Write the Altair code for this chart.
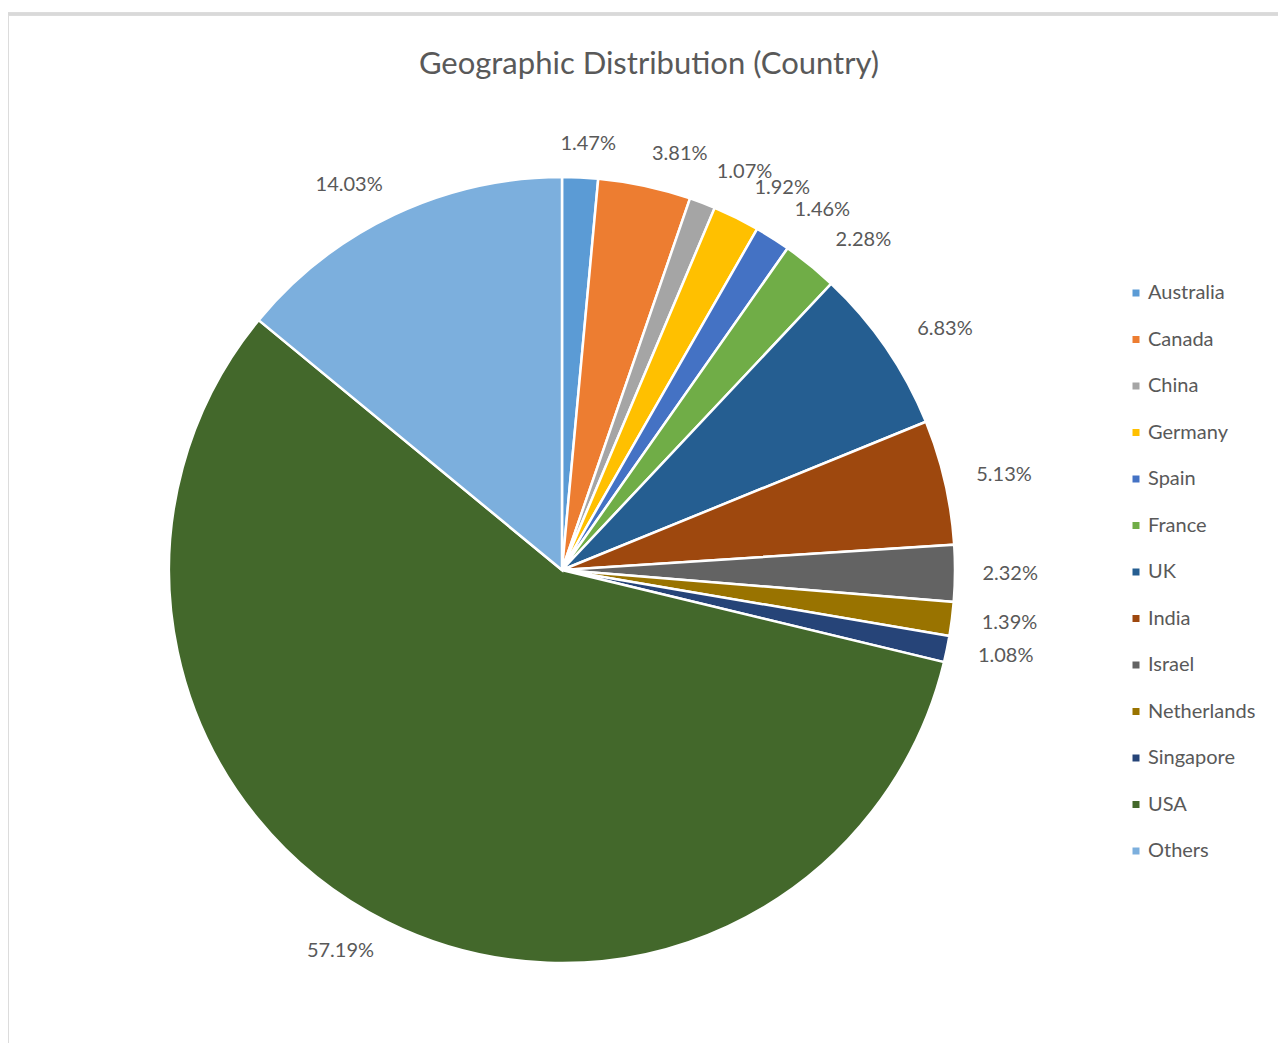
import altair as alt
import pandas as pd

countries = ["Australia", "Canada", "China", "Germany", "Spain", "France", "UK",
             "India", "Israel", "Netherlands", "Singapore", "USA", "Others"]
shares = [1.47, 3.81, 1.07, 1.92, 1.46, 2.28, 6.83, 5.13, 2.32, 1.39, 1.08, 57.19, 14.03]
colors = ["#5B9BD5", "#ED7D31", "#A5A5A5", "#FFC000", "#4472C4", "#70AD47", "#255E91",
          "#9E480E", "#636363", "#997300", "#264478", "#43682B", "#7CAFDD"]
labels = [f"{v:.2f}%" for v in shares]
title_text = "Geographic Distribution (Country)"

df = pd.DataFrame({"country": countries, "share": shares, "label": labels,
                   "order": list(range(len(countries)))})

FONT = "Lato"
TXT = "#595959"
CX, CY = 554, 482

pie = alt.Chart(df).mark_arc(outerRadius=393, stroke="white", strokeWidth=2.5).encode(
    theta=alt.Theta("share:Q", stack=True),
    order=alt.Order("order:Q"),
    x=alt.value(CX), y=alt.value(CY),
    color=alt.Color(
        "country:N",
        scale=alt.Scale(domain=countries, range=colors),
        sort=countries,
        legend=alt.Legend(
            title=None, orient="none", legendX=1118, legendY=195,
            symbolType="square", symbolSize=49, symbolStrokeWidth=0,
            labelFont=FONT, labelFontSize=20, labelColor=TXT,
            labelOffset=2, rowPadding=26.5, labelLimit=300,
        ),
    ),
)

text = alt.Chart(df).transform_window(
    cum="sum(share)", sort=[alt.SortField("order")], frame=[None, 0]
).transform_joinaggregate(
    total="sum(share)"
).transform_calculate(
    ang="2*PI*(datum.cum - datum.share/2)/datum.total"
).transform_calculate(
    lx=f"{CX} + 448*sin(datum.ang) + 24*clamp(5*sin(datum.ang), -1, 1)*abs(cos(datum.ang))",
    ly=f"{CY} - 426*cos(datum.ang)",
).mark_text(font=FONT, fontSize=20, color=TXT, baseline="middle", align="center").encode(
    x=alt.X("lx:Q", scale=None, axis=None),
    y=alt.Y("ly:Q", scale=None, axis=None),
    text="label:N",
)

title = alt.Chart(pd.DataFrame({"t": [title_text]})).mark_text(
    font=FONT, fontSize=31, color=TXT, baseline="alphabetic", align="center"
).encode(x=alt.value(641), y=alt.value(-14), text="t:N")

frame_left = alt.Chart(df).mark_rule(color="#d9d9d9", strokeWidth=2.5).encode(
    x=alt.value(-1), y=alt.value(-74), y2=alt.value(1000),
)
frame_top = alt.Chart(df).mark_rule(color="#d9d9d9", strokeWidth=2.5).encode(
    x=alt.value(-1), x2=alt.value(1300), y=alt.value(-74),
)

chart = alt.layer(frame_left, frame_top, pie, text, title).properties(
    width=1270, height=955,
    padding={"top": 80, "left": 0, "right": 0, "bottom": 0},
    autosize=alt.AutoSizeParams(type="none"),
    background="white",
).configure_view(strokeWidth=0)

chart.save("out.html", embed_options={"renderer": "svg", "actions": False})
